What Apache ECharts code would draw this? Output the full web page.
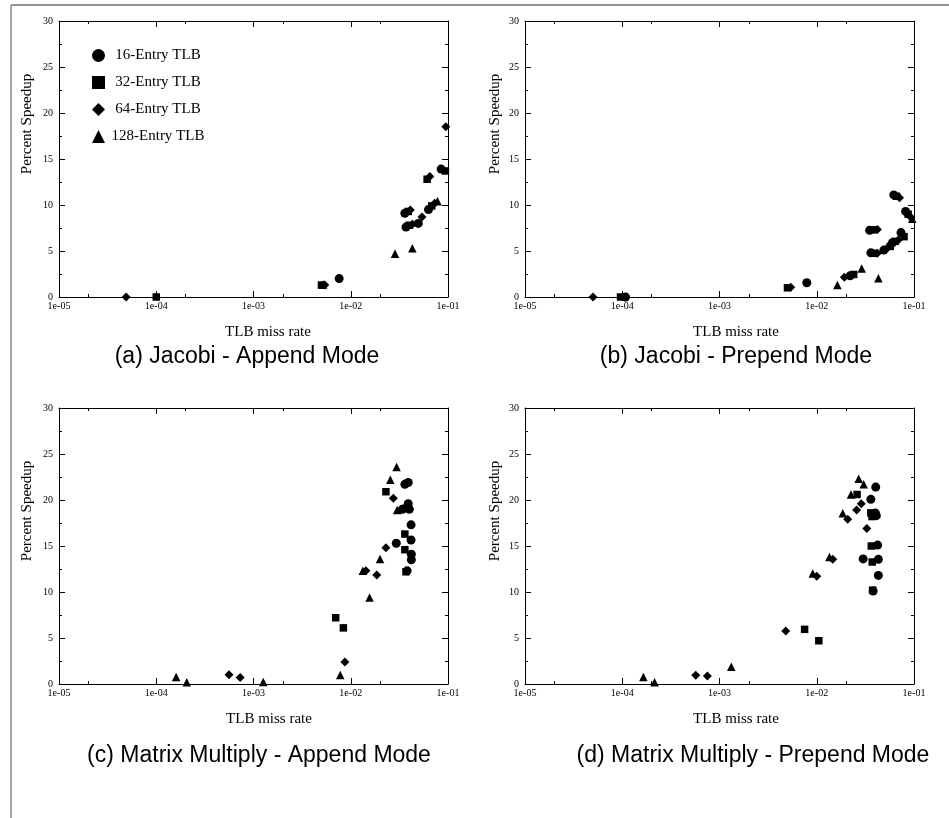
<!DOCTYPE html>
<html>
<head>
<meta charset="utf-8">
<title>Percent speedup vs TLB miss rate</title>
<script src="https://cdn.jsdelivr.net/npm/echarts@6/dist/echarts.min.js"></script>
<style>
  html, body { margin: 0; padding: 0; background: #ffffff; }
  #chart { width: 949px; height: 818px; }
</style>
</head>
<body>
<div id="chart"></div>
<script>
const seriesNames = ['16-Entry TLB', '32-Entry TLB', '64-Entry TLB', '128-Entry TLB']
const xTickLabels = ['1e-05', '1e-04', '1e-03', '1e-02', '1e-01']
const captions = [
  '(a) Jacobi - Append Mode',
  '(b) Jacobi - Prepend Mode',
  '(c) Matrix Multiply - Append Mode',
  '(d) Matrix Multiply - Prepend Mode',
]

// (a) Jacobi - Append Mode   [TLB miss rate, percent speedup]
const jacobiAppend16 = [[7.6e-3, 2.0], [3.6e-2, 9.1], [3.7e-2, 7.6], [4.95e-2, 8.0], [6.3e-2, 9.5], [8.5e-2, 13.9]]
const jacobiAppend32 = [[1.0e-4, 0], [5.0e-3, 1.3], [3.9e-2, 9.3], [4.0e-2, 7.8], [6.1e-2, 12.8], [6.8e-2, 9.9], [9.4e-2, 13.7]]
const jacobiAppend64 = [[4.9e-5, 0], [5.4e-3, 1.3], [4.1e-2, 9.45], [4.3e-2, 7.9], [5.4e-2, 8.7], [6.5e-2, 13.1], [7.3e-2, 10.2], [9.5e-2, 18.5]]
const jacobiAppend128 = [[5.2e-3, 1.35], [2.85e-2, 4.7], [4.3e-2, 5.3], [7.8e-2, 10.4]]

// (b) Jacobi - Prepend Mode
const jacobiPrepend16 = [[1.08e-4, 0], [7.9e-3, 1.55], [2.2e-2, 2.3], [3.6e-2, 4.8], [3.5e-2, 7.25], [4.9e-2, 5.1], [6.0e-2, 5.9], [7.35e-2, 7.0], [6.2e-2, 11.1], [8.2e-2, 9.3]]
const jacobiPrepend32 = [[9.6e-5, 0], [5.0e-3, 1.0], [2.4e-2, 2.45], [3.9e-2, 4.75], [3.8e-2, 7.3], [5.7e-2, 5.5], [6.4e-2, 6.05], [7.9e-2, 6.56], [6.6e-2, 10.95], [8.7e-2, 9.0]]
const jacobiPrepend64 = [[5.0e-5, 0], [5.4e-3, 1.05], [1.92e-2, 2.14], [4.2e-2, 4.75], [4.2e-2, 7.35], [5.3e-2, 5.3], [6.9e-2, 6.2], [7.1e-2, 10.8], [9.2e-2, 8.7]]
const jacobiPrepend128 = [[1.63e-2, 1.3], [2.9e-2, 3.1], [4.3e-2, 2.03], [9.6e-2, 8.5]]

// (c) Matrix Multiply - Append Mode
const matmulAppend16 = [[2.94e-2, 15.3], [4.17e-2, 17.3], [4.17e-2, 15.65], [4.2e-2, 14.1], [4.2e-2, 13.5], [3.8e-2, 12.3], [3.6e-2, 21.7], [3.9e-2, 21.9], [3.9e-2, 19.6], [3.4e-2, 19.0], [4.0e-2, 19.0]]
const matmulAppend32 = [[7.0e-3, 7.2], [8.4e-3, 6.1], [2.3e-2, 20.9], [3.6e-2, 16.3], [3.6e-2, 14.6], [3.7e-2, 12.2], [3.7e-2, 19.1]]
const matmulAppend64 = [[5.6e-4, 1.0], [7.3e-4, 0.7], [8.7e-3, 2.4], [1.43e-2, 12.3], [1.85e-2, 11.85], [2.3e-2, 14.8], [2.74e-2, 20.2]]
const matmulAppend128 = [[1.6e-4, 0.76], [2.06e-4, 0.2], [1.26e-3, 0.22], [7.8e-3, 0.98], [1.33e-2, 12.3], [1.56e-2, 9.4], [2.0e-2, 13.6], [2.55e-2, 22.2], [2.96e-2, 23.6], [3.0e-2, 18.9]]

// (d) Matrix Multiply - Prepend Mode
const matmulPrepend16 = [[4.04e-2, 21.4], [3.6e-2, 20.07], [4.0e-2, 18.6], [4.1e-2, 18.3], [4.23e-2, 15.1], [3.0e-2, 13.6], [4.3e-2, 13.55], [4.3e-2, 11.8], [3.8e-2, 10.1]]
const matmulPrepend32 = [[7.5e-3, 5.94], [1.05e-2, 4.7], [2.6e-2, 20.6], [3.6e-2, 18.6], [3.7e-2, 18.2], [3.64e-2, 15.0], [3.72e-2, 13.26], [3.76e-2, 10.2]]
const matmulPrepend64 = [[5.7e-4, 0.94], [7.5e-4, 0.87], [4.8e-3, 5.76], [1.0e-2, 11.7], [1.46e-2, 13.55], [2.08e-2, 17.9], [2.57e-2, 18.9], [2.87e-2, 19.6], [3.27e-2, 16.9]]
const matmulPrepend128 = [[1.65e-4, 0.76], [2.15e-4, 0.2], [1.32e-3, 1.88], [9.1e-3, 12.0], [1.35e-2, 13.8], [1.85e-2, 18.55], [2.25e-2, 20.6], [2.7e-2, 22.3], [3.04e-2, 21.7]]

const panelData = [
  [jacobiAppend16, jacobiAppend32, jacobiAppend64, jacobiAppend128],
  [jacobiPrepend16, jacobiPrepend32, jacobiPrepend64, jacobiPrepend128],
  [matmulAppend16, matmulAppend32, matmulAppend64, matmulAppend128],
  [matmulPrepend16, matmulPrepend32, matmulPrepend64, matmulPrepend128],
]

// layout of the four panels
const panels = [
  { left: 59, top: 21, yTitleX: 27, yTitleY: 124, xTitleX: 268, xTitleY: 332, capX: 247, capY: 357 },
  { left: 525, top: 21, yTitleX: 495, yTitleY: 124, xTitleX: 736, xTitleY: 332, capX: 736, capY: 357 },
  { left: 59, top: 408, yTitleX: 27, yTitleY: 511, xTitleX: 269, xTitleY: 719, capX: 259, capY: 756 },
  { left: 525, top: 408, yTitleX: 495, yTitleY: 511, xTitleX: 736, xTitleY: 719, capX: 753, capY: 756 },
]
const symbols = ['circle', 'rect', 'diamond', 'triangle']
const symbolSizes = [9, 7.5, 9, 8.5]
const serif = '"Liberation Serif", "Times New Roman", serif'
const black = '#000000'
// minor ticks at 2 x 10^n, in log10 units
const minorTicks = [-5, -4, -3, -2].map((e) => e + Math.log10(2))

const grids = []
const xAxes = []
const yAxes = []
const series = []
const graphics = [
  { type: 'line', shape: { x1: 11, y1: 5, x2: 949, y2: 5 }, style: { stroke: '#707070', lineWidth: 1.5 } },
  { type: 'line', shape: { x1: 11, y1: 5, x2: 11, y2: 818 }, style: { stroke: '#8a8a8a', lineWidth: 1.5 } },
]

function logAxis(i, pos, labels) {
  return {
    type: 'log',
    logBase: 10,
    gridIndex: i,
    position: pos,
    min: 1e-5,
    max: 1e-1,
    axisLine: { show: true, lineStyle: { color: black, width: 1 } },
    axisTick: { show: true, inside: true, length: 6, lineStyle: { color: black } },
    minorTick: { show: false },
    splitLine: { show: false },
    axisLabel: {
      show: labels,
      margin: 4,
      showMinLabel: true,
      showMaxLabel: true,
      color: black,
      fontFamily: serif,
      fontSize: 10,
      formatter: (v) => xTickLabels[Math.round(Math.log10(v)) + 5],
    },
  }
}

function minorAxis(i, pos) {
  return {
    type: 'value',
    gridIndex: i,
    position: pos,
    min: -5,
    max: -1,
    axisLine: { show: false },
    axisLabel: { show: false },
    splitLine: { show: false },
    axisTick: { show: true, inside: true, length: 3, customValues: minorTicks, lineStyle: { color: black } },
  }
}

function valueAxis(i, pos, labels) {
  return {
    type: 'value',
    gridIndex: i,
    position: pos,
    min: 0,
    max: 30,
    interval: 5,
    axisLine: { show: true, lineStyle: { color: black, width: 1 } },
    axisTick: { show: true, inside: true, length: 6, lineStyle: { color: black } },
    minorTick: { show: true, splitNumber: 2, length: 3, lineStyle: { color: black } },
    splitLine: { show: false },
    axisLabel: { show: labels, margin: 6, color: black, fontFamily: serif, fontSize: 10 },
  }
}

panels.forEach((p, i) => {
  grids.push({ left: p.left, top: p.top, width: 389, height: 276, outerBoundsMode: 'none' })
  xAxes.push(logAxis(i, 'bottom', true), minorAxis(i, 'bottom'), logAxis(i, 'top', false), minorAxis(i, 'top'))
  yAxes.push(valueAxis(i, 'left', true), valueAxis(i, 'right', false))
  panelData[i].forEach((data, s) => {
    series.push({
      name: seriesNames[s],
      type: 'scatter',
      xAxisIndex: i * 4,
      yAxisIndex: i * 2,
      symbol: symbols[s],
      symbolSize: symbolSizes[s],
      itemStyle: { color: black, opacity: 1 },
      data: data,
    })
  })
  graphics.push(
    {
      type: 'text', x: p.yTitleX, y: p.yTitleY, rotation: Math.PI / 2,
      style: { text: 'Percent Speedup', font: '15px ' + serif, fill: black, align: 'center', verticalAlign: 'middle' },
    },
    {
      type: 'text', x: p.xTitleX, y: p.xTitleY,
      style: { text: 'TLB miss rate', font: '15px ' + serif, fill: black, align: 'center', verticalAlign: 'middle' },
    },
    {
      type: 'text', x: p.capX, y: p.capY,
      style: { text: captions[i], font: '23px "Liberation Sans", Arial, sans-serif', fill: black, align: 'center', verticalAlign: 'middle' },
    }
  )
})

const option = {
  animation: false,
  backgroundColor: '#ffffff',
  grid: grids,
  xAxis: xAxes,
  yAxis: yAxes,
  legend: {
    data: seriesNames,
    orient: 'vertical',
    left: 92,
    top: 48,
    padding: 0,
    itemGap: 12,
    itemWidth: 13,
    itemHeight: 13,
    selectedMode: false,
    // legend text is centred in the original
    formatter: (name) => '{t|' + name + '}',
    textStyle: {
      color: black,
      rich: { t: { width: 96, align: 'center', color: black, fontFamily: serif, fontSize: 15 } },
    },
  },
  series: series,
  graphic: graphics,
}

const myChart = echarts.init(document.getElementById('chart'))
myChart.setOption(option)
</script>
</body>
</html>
